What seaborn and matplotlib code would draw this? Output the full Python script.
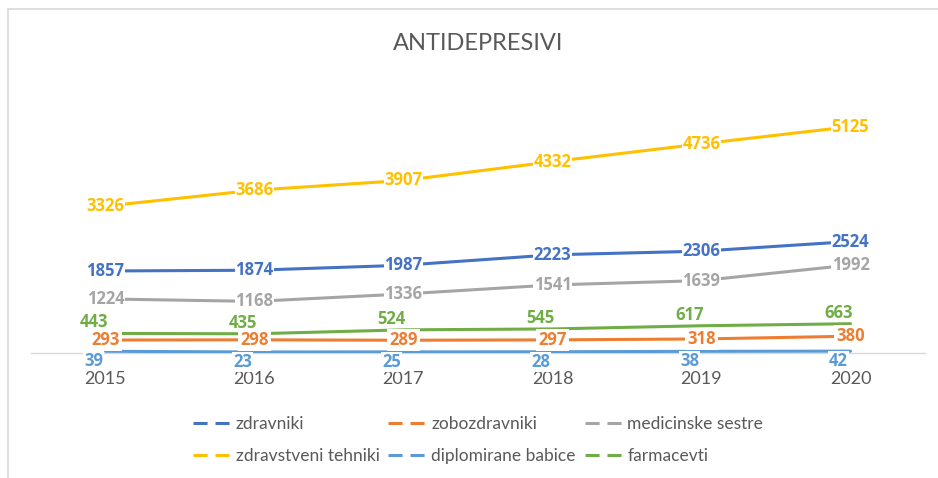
import matplotlib
matplotlib.use('Agg')
import numpy as np
import pandas as pd
import seaborn as sns
import matplotlib.pyplot as plt
from matplotlib.lines import Line2D

# ---- data ----
years = ['2015', '2016', '2017', '2018', '2019', '2020']
zdravniki = [1857, 1874, 1987, 2223, 2306, 2524]
zobozdravniki = [293, 298, 289, 297, 318, 380]
medicinske_sestre = [1224, 1168, 1336, 1541, 1639, 1992]
zdravstveni_tehniki = [3326, 3686, 3907, 4332, 4736, 5125]
diplomirane_babice = [39, 23, 25, 28, 38, 42]
farmacevti = [443, 435, 524, 545, 617, 663]
series_names = ['zdravniki', 'zobozdravniki', 'medicinske sestre',
                'zdravstveni tehniki', 'diplomirane babice', 'farmacevti']
series_values = [zdravniki, zobozdravniki, medicinske_sestre,
                 zdravstveni_tehniki, diplomirane_babice, farmacevti]
title = 'ANTIDEPRESIVI'

colors = ['#4472C4', '#ED7D31', '#A5A5A5', '#FFC000', '#5B9BD5', '#70AD47']
# label offsets in pixels (dx, dy) relative to point, bbox padding, zorder
label_offsets = [(0, 0), (0, 0), (0, 0), (0, 0), (-12, -10), (-12, 11)]
label_pads = [0.05, 0.12, 0.05, 0.05, 0.05, 0.0]
label_z = [4, 5, 4, 4, 4, 6]

rows = []
for name, vals in zip(series_names, series_values):
    for i, v in enumerate(vals):
        rows.append({'pos': i, 'year': years[i], 'value': v, 'series': name})
df = pd.DataFrame(rows)

sns.set_theme(style='white')
plt.rcParams['font.family'] = ['Lato', 'DejaVu Sans']

W, H = 938, 478
fig = plt.figure(figsize=(W / 100, H / 100), dpi=100)
ax = fig.add_axes([31 / W, 1 - 353 / H, (925 - 31) / W, (353 - 88) / H])

sns.lineplot(data=df, x='pos', y='value', hue='series', hue_order=series_names,
             palette=colors, linewidth=2.2, legend=False, ax=ax, zorder=2)

px2pt = 0.72
for name, vals, col, (dx, dy), pad, z in zip(series_names, series_values, colors,
                                             label_offsets, label_pads, label_z):
    for i, v in enumerate(vals):
        bb = None if pad == 0.0 else dict(boxstyle=f'square,pad={pad}', fc='white', ec='none')
        ax.annotate(str(v), xy=(i, v), xytext=(dx * px2pt, dy * px2pt),
                    textcoords='offset points', ha='center', va='center',
                    fontsize=12, fontweight='bold', color=col, zorder=z,
                    family=['Open Sans', 'DejaVu Sans'], bbox=bb)

ax.set_xlim(-0.5, 5.5)
ax.set_ylim(0, 6000)
ax.set_xticks(range(len(years)))
ax.set_xticklabels(years)
ax.set_yticks([])
ax.set_xlabel('')
ax.set_ylabel('')
ax.tick_params(axis='x', length=0, pad=13, labelsize=13, labelcolor='#595959')
for s in ['top', 'right', 'left']:
    ax.spines[s].set_visible(False)
ax.spines['bottom'].set_color('#D9D9D9')
ax.spines['bottom'].set_linewidth(1.0)
ax.spines['bottom'].set_zorder(1)
ax.set_facecolor('none')

fig.text(478 / W, 1 - 44 / H, title, ha='center', va='center', fontsize=17,
         color='#595959')

handles = [Line2D([0], [0], color=c, lw=2.2, linestyle=(0, (4.6, 2.6)),
                  dash_capstyle='butt') for c in colors]
# reorder so entries read row by row (matplotlib fills column-wise)
order = [0, 3, 1, 4, 2, 5]
fig.legend([handles[k] for k in order], [series_names[k] for k in order],
           ncol=3, loc='upper left',
           bbox_to_anchor=(193 / W, 1 - 416 / H), frameon=False,
           fontsize=12.5, handlelength=2.3, handletextpad=0.17,
           columnspacing=0.5, labelspacing=0.95, borderpad=0, borderaxespad=0,
           labelcolor='#595959')

# chart border (top and left visible)
fig.add_artist(Line2D([8 / W, 1], [1 - 9 / H, 1 - 9 / H], color='#D9D9D9', lw=1.2,
                      transform=fig.transFigure))
fig.add_artist(Line2D([8 / W, 8 / W], [1 - 9 / H, 0], color='#D9D9D9', lw=1.2,
                      transform=fig.transFigure))

fig.savefig('out.png', dpi=100, facecolor='white')
